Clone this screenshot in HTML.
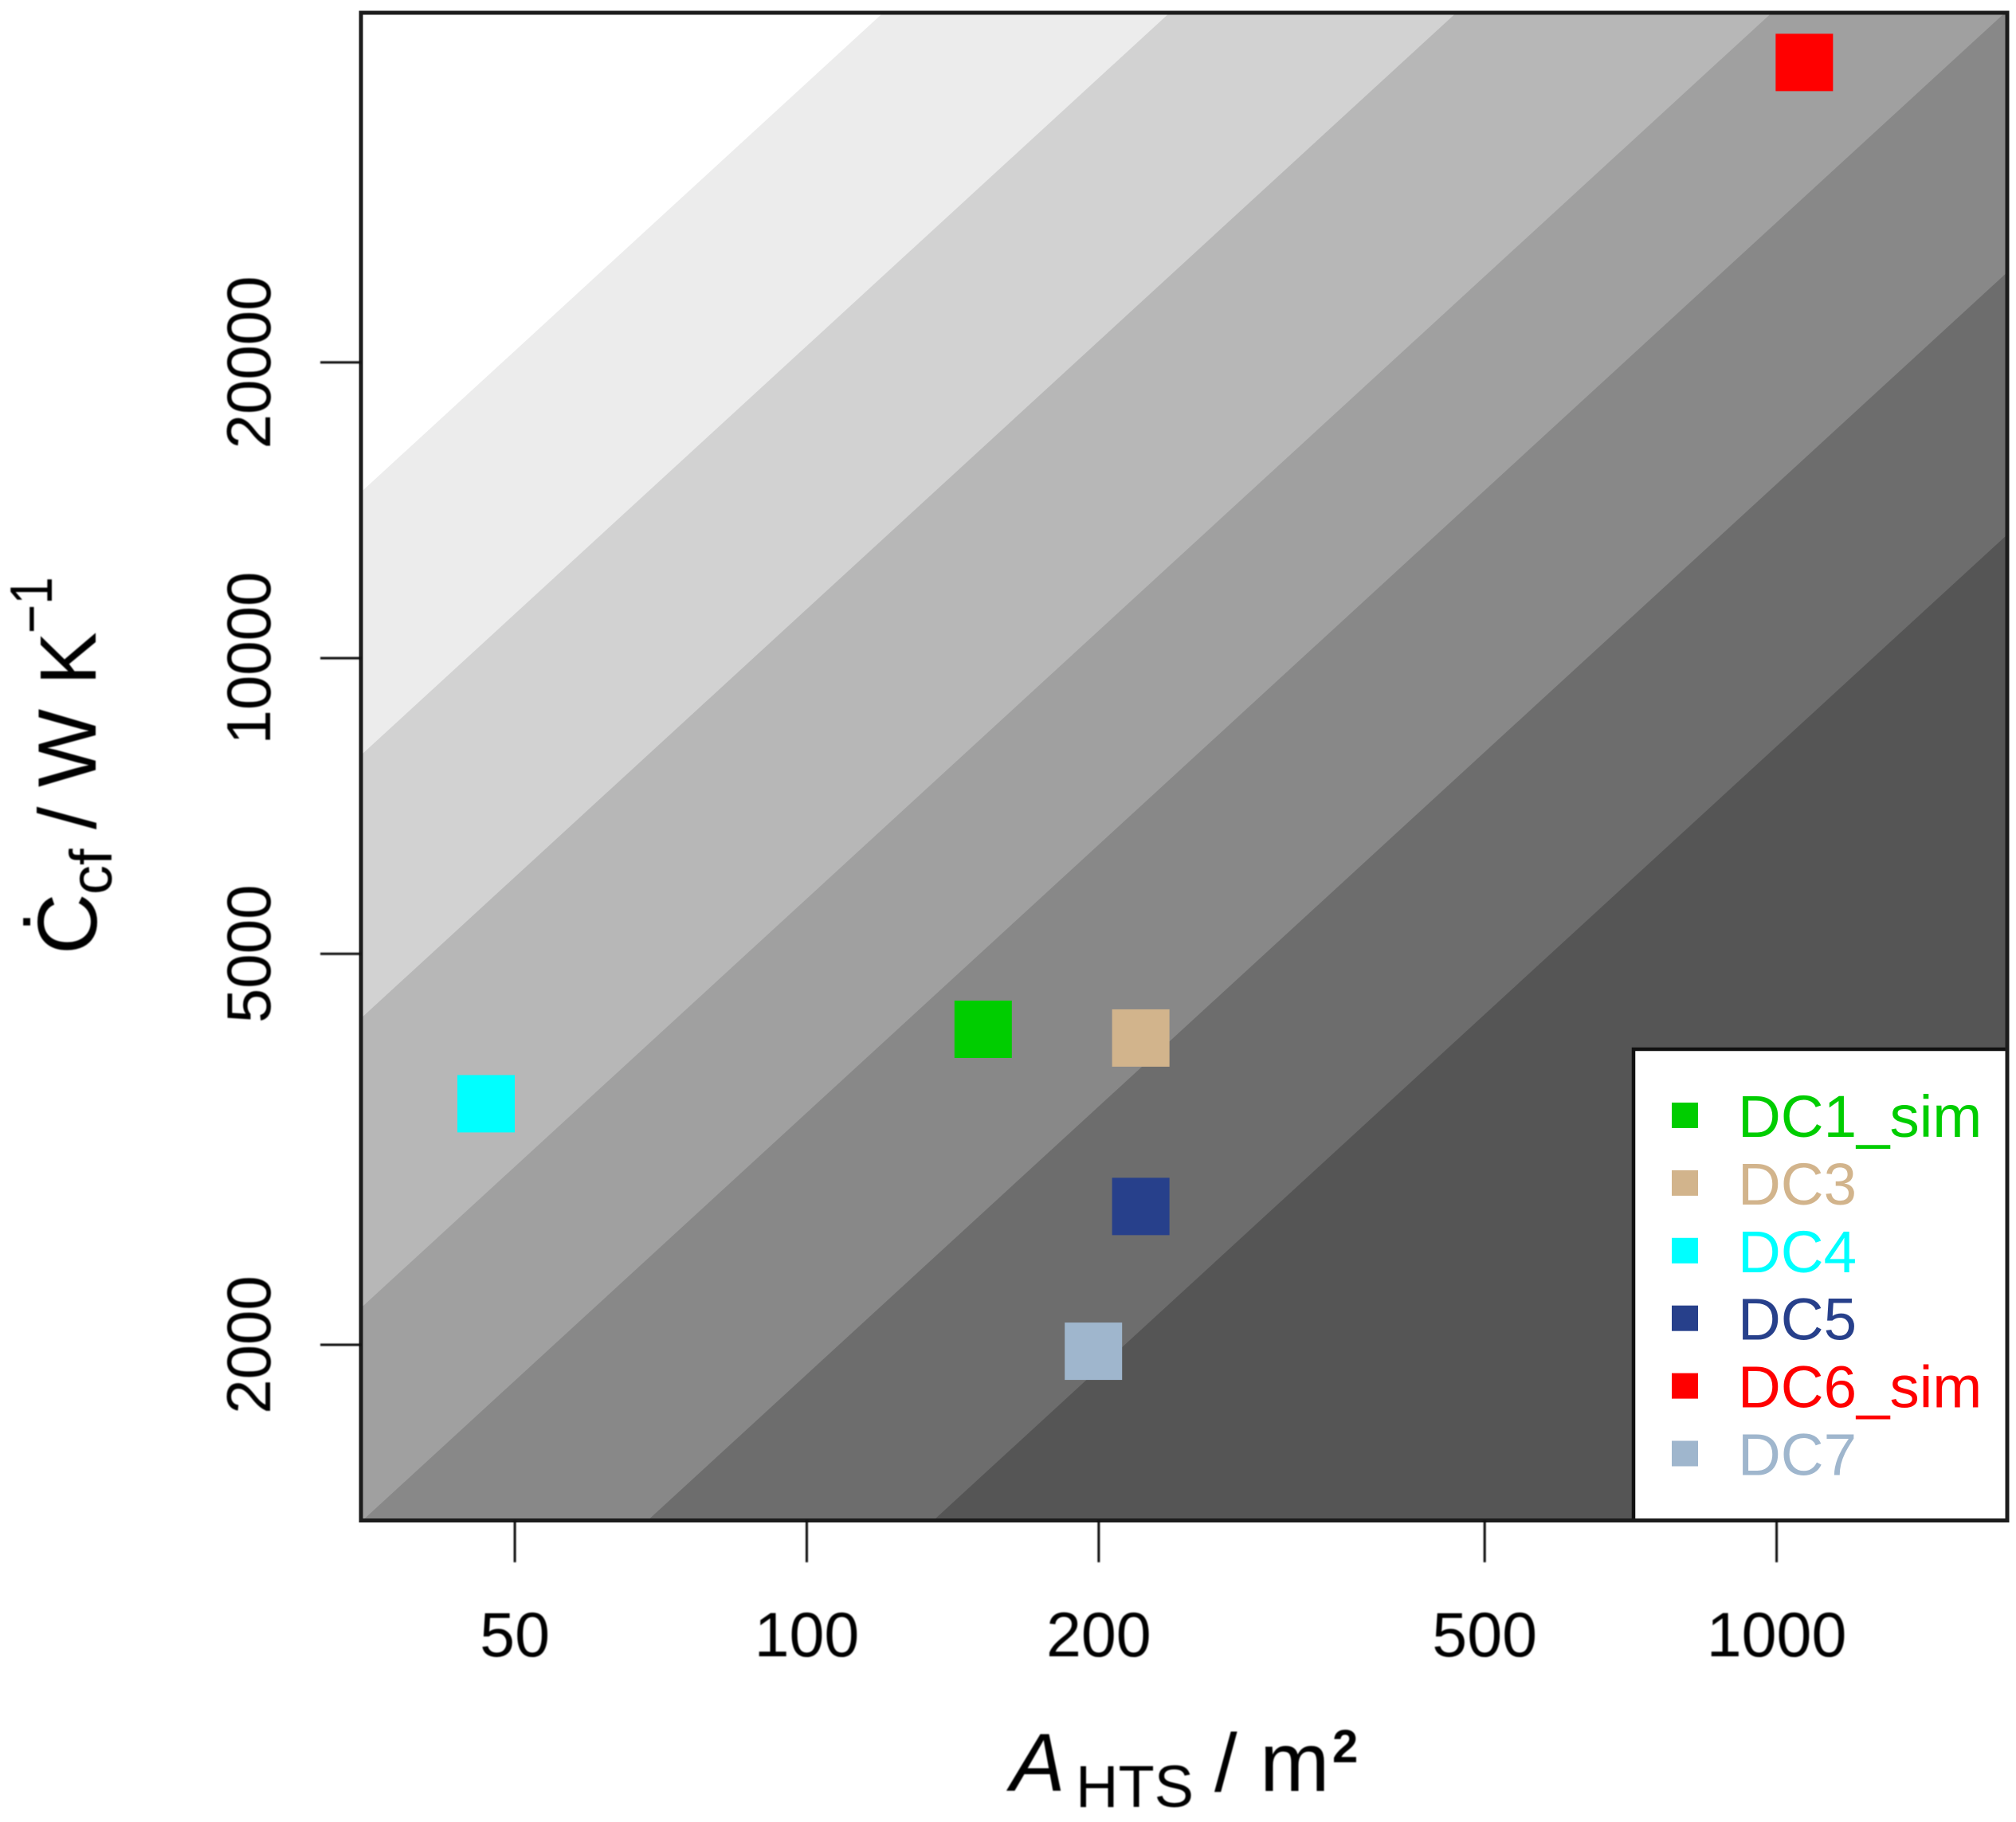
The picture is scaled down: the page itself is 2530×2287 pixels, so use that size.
<!DOCTYPE html>
<html lang="en">
<head>
<meta charset="utf-8">
<title>Contour chart of C_cf against A_HTS</title>
<style>
  html, body { margin: 0; padding: 0; background: #ffffff; width: 2530px; height: 2287px; overflow: hidden; }
  svg { position: absolute; left: 0; top: 0; display: block; overflow: hidden; }
  text { font-family: "Liberation Sans", Arial, sans-serif; fill: #000; }
</style>
</head>
<body>
<svg id="chart" xmlns="http://www.w3.org/2000/svg" width="2530" height="2287" viewBox="0 0 2530 2287">
  <defs>
    <clipPath id="plot-clip"><rect x="453" y="16" width="2066" height="1892.5"/></clipPath>
    <filter id="soften" filterUnits="userSpaceOnUse" x="5" y="5" width="2520" height="2272"><feGaussianBlur stdDeviation="0.7"/></filter>
  </defs>
  <rect x="453" y="16" width="2066" height="1892.5" fill="#ffffff"/>
  <g id="bands" clip-path="url(#plot-clip)"></g>
  <g id="points"></g>
  <g id="legend">
    <rect x="2050" y="1317" width="469" height="591.5" fill="#ffffff" stroke="#111111" stroke-width="4.5"/>
  </g>
  <rect x="453" y="16" width="2066" height="1892.5" fill="none" stroke="#1c1c1c" stroke-width="5"/>
  <g id="x-axis" filter="url(#soften)"></g>
  <g id="y-axis" filter="url(#soften)"></g>

  <g filter="url(#soften)">
    <text x="1268" y="2248" font-size="103" font-style="italic">A</text>
    <text x="1350" y="2268" font-size="74">HTS</text>
    <text x="1524" y="2248" font-size="103">/</text>
    <text x="1581" y="2248" font-size="105">m</text>
    <text x="1672" y="2212" font-size="58" font-weight="bold">2</text>
  </g>
  <g filter="url(#soften)">
    <text transform="translate(121 1198) rotate(-90)" font-size="106">Ċ</text>
    <text transform="translate(140 1123) rotate(-90)" font-size="74">cf</text>
    <text transform="translate(120 1041) rotate(-90)" font-size="102">/</text>
    <text transform="translate(120 988) rotate(-90)" font-size="104">W</text>
    <text transform="translate(120 860) rotate(-90)" font-size="100">K</text>
    <text transform="translate(65 795) rotate(-90) scale(0.94,1.14)" font-size="66">−1</text>
  </g>
</svg>
<script>
// Chart data
const contourLevels = [38510, 20790, 11220, 5691, 3446, 1866, 1009]; // C at A = 100
const contourExponent = 0.9063;
const seriesNames = ["DC1_sim", "DC3", "DC4", "DC5", "DC6_sim", "DC7"];
const seriesArea = [152, 221, 46.7, 221, 1068, 197.5];
const seriesCapacity = [4190, 4105, 3519, 2766, 40400, 1970];
const xTickValues = [50, 100, 200, 500, 1000];
const yTickValues = [2000, 5000, 10000, 20000];
const xDomain = [34.7, 1729];
const yDomain = [1325, 45390];

// Styling
const seriesColors = ["#00cd00", "#d2b48c", "#00ffff", "#27408b", "#ff0000", "#9fb6cd"];
const bandColors = ["#ececec", "#d2d2d2", "#b7b7b7", "#a0a0a0", "#888888", "#6d6d6d", "#555555"];

const SVG_NS = "http://www.w3.org/2000/svg";
const plot = { left: 453, right: 2519, top: 16, bottom: 1908.5 };

function xScale(a) {
  const t = (Math.log10(a) - Math.log10(xDomain[0])) / (Math.log10(xDomain[1]) - Math.log10(xDomain[0]));
  return plot.left + t * (plot.right - plot.left);
}
function yScale(c) {
  const t = (Math.log10(c) - Math.log10(yDomain[0])) / (Math.log10(yDomain[1]) - Math.log10(yDomain[0]));
  return plot.bottom - t * (plot.bottom - plot.top);
}
function contourAt(level, a) {
  return level * Math.pow(a / 100, contourExponent);
}
function areaOnContour(level, c) {
  return 100 * Math.pow(c / level, 1 / contourExponent);
}
function make(tag, parent, attrs) {
  const el = document.createElementNS(SVG_NS, tag);
  for (const k in attrs) el.setAttribute(k, attrs[k]);
  parent.appendChild(el);
  return el;
}

// Contour bands: each polygon is the part of the plot below one contour line
const bandsGroup = document.getElementById("bands");
contourLevels.forEach(function (level, i) {
  const aStart = Math.max(xDomain[0], areaOnContour(level, yDomain[0]));
  const aEnd = Math.min(xDomain[1], areaOnContour(level, yDomain[1]));
  const corners = [[xScale(aStart), yScale(contourAt(level, aStart))], [xScale(aEnd), yScale(contourAt(level, aEnd))]];
  if (aEnd < xDomain[1]) corners.push([plot.right, plot.top]);
  corners.push([plot.right, plot.bottom]);
  if (aStart <= xDomain[0]) corners.push([plot.left, plot.bottom]);
  const pts = corners.map(function (p) { return p[0].toFixed(1) + "," + p[1].toFixed(1); }).join(" ");
  const band = make("polygon", bandsGroup, { points: pts, fill: bandColors[i] });
  
  
});

// Data points
const pointsGroup = document.getElementById("points");
const pointSize = 72;
seriesNames.forEach(function (name, i) {
  const cx = xScale(seriesArea[i]);
  const cy = yScale(seriesCapacity[i]);
  const pt = make("rect", pointsGroup, {
    x: cx - pointSize / 2, y: cy - pointSize / 2,
    width: pointSize, height: pointSize, fill: seriesColors[i]
  });
  
  
});

// Legend
const legendGroup = document.getElementById("legend");
seriesNames.forEach(function (name, i) {
  const rowY = 1400 + i * 84.9;
  const entry = make("g", legendGroup, {});
  
  
  const key = make("rect", entry, { x: 2098, y: rowY - 16, width: 33, height: 32, fill: seriesColors[i] });
  
  
  const label = make("text", entry, { x: 2181, y: rowY + 27, "font-size": 74.5 });
  
  
  label.style.fill = seriesColors[i];
  label.textContent = name;
});

// X axis
const xAxisGroup = document.getElementById("x-axis");
xTickValues.forEach(function (v) {
  const x = xScale(v);
  const tick = make("line", xAxisGroup, { x1: x, x2: x, y1: plot.bottom, y2: 1961, stroke: "#111", "stroke-width": 3 });
  
  
  const label = make("text", xAxisGroup, { x: x, y: 2079, "font-size": 79, "text-anchor": "middle" });
  
  
  label.textContent = v;
});

// Y axis
const yAxisGroup = document.getElementById("y-axis");
yTickValues.forEach(function (v) {
  const y = yScale(v);
  const tick = make("line", yAxisGroup, { x1: 402, x2: plot.left, y1: y, y2: y, stroke: "#111", "stroke-width": 3 });
  
  
  const label = make("text", yAxisGroup, {
    transform: "translate(339 " + y + ") rotate(-90)", "font-size": 78, "text-anchor": "middle"
  });
  
  
  label.textContent = v;
});
</script>
</body>
</html>
